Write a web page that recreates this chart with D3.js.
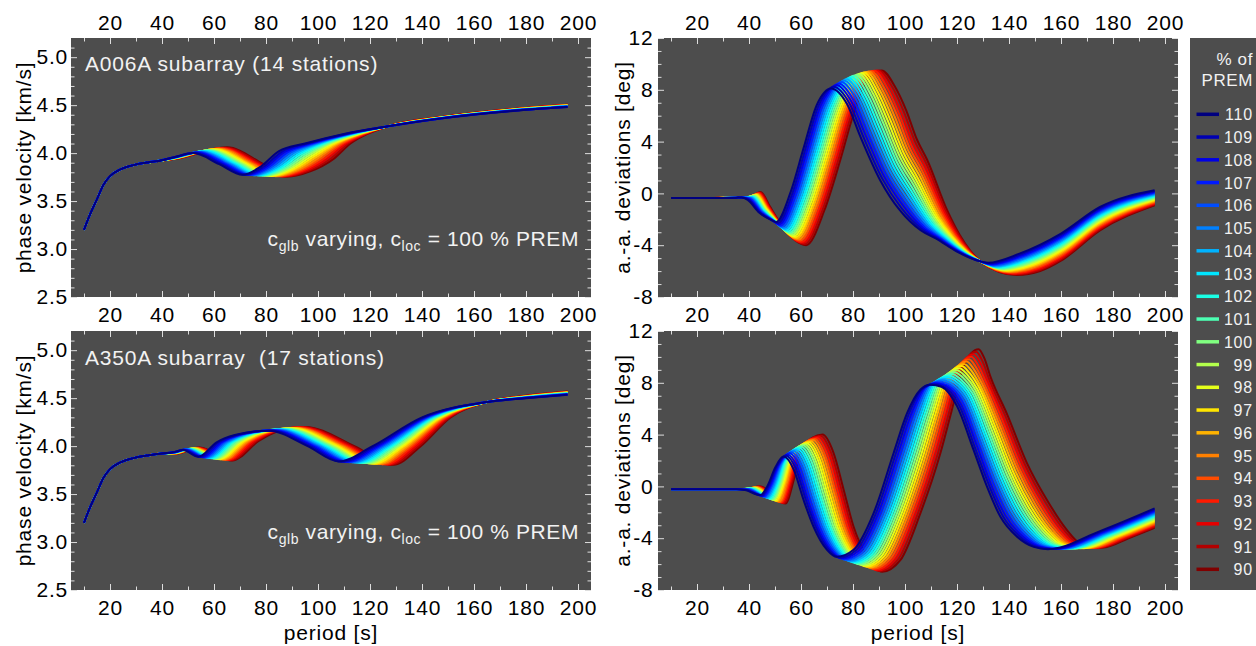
<!DOCTYPE html>
<html>
<head>
<meta charset="utf-8">
<script src="https://cdn.jsdelivr.net/npm/d3@7"></script>
<style>
  body { margin: 0; background: #fff; }
  svg { display: block; }
</style>
</head>
<body>
<svg id="chart" width="1256" height="646"></svg>
<script>
// c_glb in % of PREM, one curve each (legend order, top to bottom)
const levels = [110,109,108,107,106,105,104,103,102,101,100,99,98,97,96,95,94,93,92,91,90];

// tick values
const periodMajor = [20,40,60,80,100,120,140,160,180,200];
const periodMinor = [10,30,50,70,90,110,130,150,170,190];
const velMajor = [2.5,3.0,3.5,4.0,4.5,5.0];
const velMinor = [2.6,2.7,2.8,2.9,3.1,3.2,3.3,3.4,3.6,3.7,3.8,3.9,4.1,4.2,4.3,4.4,4.6,4.7,4.8,4.9,5.1];
const devMajor = [-8,-4,0,4,8,12];
const devMinor = [-7,-6,-5,-3,-2,-1,1,2,3,5,6,7,9,10,11];

// phase velocity [km/s]: part that all curves share (period, value, period, value ...)
const velStart = [10,3.20, 12,3.34, 15,3.52, 17.5,3.67, 20,3.76, 24,3.83, 29,3.875, 35,3.905, 39,3.92];

// A006A phase velocity, one row per level (period, value ...)
const velTop = [
  [45,3.960, 52,4.000, 62,3.885, 71,3.775, 78,3.860, 85,4.020, 95,4.10, 110,4.20, 127,4.28, 150,4.370, 175,4.440, 196,4.480],
  [45,3.959, 52.7,4.003, 62.9,3.885, 71.9,3.774, 79,3.858, 86.1,4.016, 95.9,4.10, 110.5,4.20, 127,4.28, 150,4.371, 175,4.441, 196,4.481],
  [45,3.958, 53.3,4.006, 63.7,3.885, 72.7,3.773, 79.9,3.855, 87.1,4.012, 96.8,4.10, 110.9,4.20, 127,4.28, 150,4.372, 175,4.442, 196,4.483],
  [45,3.957, 54,4.009, 64.6,3.885, 73.6,3.772, 80.9,3.853, 88.2,4.008, 97.6,4.10, 111.4,4.20, 127,4.28, 150,4.372, 175,4.443, 196,4.484],
  [45,3.956, 54.6,4.012, 65.4,3.885, 74.4,3.771, 81.8,3.850, 89.2,4.004, 98.5,4.10, 111.8,4.20, 127,4.28, 150,4.373, 175,4.444, 196,4.485],
  [45,3.955, 55.3,4.015, 66.3,3.885, 75.3,3.770, 82.8,3.848, 90.3,4.000, 99.4,4.10, 112.3,4.20, 127,4.28, 150,4.374, 175,4.445, 196,4.486],
  [45,3.954, 55.9,4.018, 67.1,3.885, 76.1,3.769, 83.7,3.845, 91.3,3.996, 100.3,4.10, 112.7,4.20, 127,4.28, 150,4.375, 175,4.446, 196,4.488],
  [45,3.953, 56.6,4.021, 68,3.885, 77,3.768, 84.7,3.843, 92.4,3.992, 101.1,4.10, 113.2,4.20, 127,4.28, 150,4.375, 175,4.447, 196,4.489],
  [45,3.952, 57.2,4.024, 68.8,3.885, 77.8,3.767, 85.6,3.840, 93.4,3.988, 102,4.10, 113.6,4.20, 127,4.28, 150,4.376, 175,4.448, 196,4.490],
  [45,3.951, 57.9,4.027, 69.7,3.885, 78.7,3.766, 86.6,3.838, 94.5,3.984, 102.9,4.10, 114.1,4.20, 127,4.28, 150,4.377, 175,4.449, 196,4.491],
  [45,3.950, 58.5,4.030, 70.5,3.885, 79.5,3.765, 87.5,3.835, 95.5,3.980, 103.8,4.10, 114.5,4.20, 127,4.28, 150,4.378, 175,4.450, 196,4.493],
  [45,3.949, 59.2,4.033, 71.4,3.885, 80.4,3.764, 88.5,3.833, 96.6,3.976, 104.6,4.10, 115,4.20, 127,4.28, 150,4.378, 175,4.451, 196,4.494],
  [45,3.948, 59.8,4.036, 72.2,3.885, 81.2,3.763, 89.4,3.830, 97.6,3.972, 105.5,4.10, 115.4,4.20, 127,4.28, 150,4.379, 175,4.452, 196,4.495],
  [45,3.947, 60.5,4.039, 73.1,3.885, 82.1,3.762, 90.4,3.828, 98.7,3.968, 106.4,4.10, 115.9,4.20, 127,4.28, 150,4.380, 175,4.453, 196,4.496],
  [45,3.946, 61.1,4.042, 73.9,3.885, 82.9,3.761, 91.3,3.825, 99.7,3.964, 107.3,4.10, 116.3,4.20, 127,4.28, 150,4.381, 175,4.454, 196,4.498],
  [45,3.945, 61.8,4.045, 74.8,3.885, 83.8,3.760, 92.3,3.823, 100.8,3.960, 108.1,4.10, 116.8,4.20, 127,4.28, 150,4.381, 175,4.455, 196,4.499],
  [45,3.944, 62.4,4.048, 75.6,3.885, 84.6,3.759, 93.2,3.820, 101.8,3.956, 109,4.10, 117.2,4.20, 127,4.28, 150,4.382, 175,4.456, 196,4.500],
  [45,3.943, 63.1,4.051, 76.5,3.885, 85.5,3.758, 94.2,3.818, 102.9,3.952, 109.9,4.10, 117.7,4.20, 127,4.28, 150,4.383, 175,4.457, 196,4.501],
  [45,3.942, 63.7,4.054, 77.3,3.885, 86.3,3.757, 95.1,3.815, 103.9,3.948, 110.8,4.10, 118.1,4.20, 127,4.28, 150,4.384, 175,4.458, 196,4.503],
  [45,3.941, 64.4,4.057, 78.2,3.885, 87.2,3.756, 96.1,3.813, 105,3.944, 111.6,4.10, 118.6,4.20, 127,4.28, 150,4.384, 175,4.459, 196,4.504],
  [45,3.940, 65,4.060, 79,3.885, 88,3.755, 97,3.810, 106,3.940, 112.5,4.10, 119,4.20, 127,4.28, 150,4.385, 175,4.460, 196,4.505]
];

// A350A phase velocity
const velBot = [
  [45,3.940, 48,3.960, 54,3.890, 61,4.040, 68,4.115, 81,4.160, 96,4.00, 108,3.840, 121,4.00, 140,4.30, 165,4.46, 180,4.500, 196,4.535],
  [45,3.939, 48.3,3.961, 54.7,3.888, 61.8,4.041, 68.8,4.117, 81.7,4.162, 96.9,4.00, 109.1,3.838, 121.9,4.00, 140.6,4.30, 165,4.46, 180,4.501, 196,4.537],
  [45,3.938, 48.7,3.963, 55.3,3.886, 62.7,4.042, 69.6,4.119, 82.4,4.164, 97.8,4.00, 110.1,3.837, 122.9,4.00, 141.1,4.30, 165,4.46, 180,4.503, 196,4.539],
  [45,3.937, 49,3.964, 56,3.884, 63.5,4.043, 70.4,4.120, 83.1,4.166, 98.7,4.00, 111.2,3.835, 123.8,4.00, 141.7,4.30, 165,4.46, 180,4.504, 196,4.540],
  [45,3.936, 49.3,3.965, 56.6,3.882, 64.3,4.044, 71.2,4.122, 83.8,4.168, 99.6,4.00, 112.2,3.833, 124.7,4.00, 142.2,4.30, 165,4.46, 180,4.505, 196,4.542],
  [45,3.935, 49.6,3.966, 57.3,3.880, 65.1,4.045, 72,4.124, 84.5,4.170, 100.5,4.00, 113.3,3.831, 125.6,4.00, 142.8,4.30, 165,4.46, 180,4.506, 196,4.544],
  [45,3.934, 50,3.968, 57.9,3.878, 66,4.046, 72.8,4.126, 85.2,4.172, 101.4,4.00, 114.3,3.830, 126.6,4.00, 143.3,4.30, 165,4.46, 180,4.508, 196,4.546],
  [45,3.933, 50.3,3.969, 58.6,3.876, 66.8,4.047, 73.6,4.127, 85.9,4.174, 102.3,4.00, 115.4,3.828, 127.5,4.00, 143.9,4.30, 165,4.46, 180,4.509, 196,4.547],
  [45,3.932, 50.6,3.970, 59.2,3.874, 67.6,4.048, 74.4,4.129, 86.6,4.176, 103.2,4.00, 116.4,3.826, 128.4,4.00, 144.4,4.30, 165,4.46, 180,4.510, 196,4.549],
  [45,3.931, 50.9,3.971, 59.9,3.872, 68.4,4.049, 75.2,4.131, 87.3,4.178, 104.1,4.00, 117.5,3.824, 129.3,4.00, 145,4.30, 165,4.46, 180,4.511, 196,4.551],
  [45,3.930, 51.3,3.973, 60.5,3.870, 69.3,4.050, 76,4.133, 88,4.180, 105,4.00, 118.5,3.823, 130.3,4.00, 145.5,4.30, 165,4.46, 180,4.513, 196,4.553],
  [45,3.929, 51.6,3.974, 61.2,3.868, 70.1,4.051, 76.8,4.134, 88.7,4.182, 105.9,4.00, 119.6,3.821, 131.2,4.00, 146.1,4.30, 165,4.46, 180,4.514, 196,4.554],
  [45,3.928, 51.9,3.975, 61.8,3.866, 70.9,4.052, 77.6,4.136, 89.4,4.184, 106.8,4.00, 120.6,3.819, 132.1,4.00, 146.6,4.30, 165,4.46, 180,4.515, 196,4.556],
  [45,3.927, 52.2,3.976, 62.5,3.864, 71.7,4.053, 78.4,4.138, 90.1,4.186, 107.7,4.00, 121.7,3.817, 133,4.00, 147.2,4.30, 165,4.46, 180,4.516, 196,4.558],
  [45,3.926, 52.6,3.978, 63.1,3.862, 72.6,4.054, 79.2,4.140, 90.8,4.188, 108.6,4.00, 122.7,3.816, 134,4.00, 147.7,4.30, 165,4.46, 180,4.518, 196,4.560],
  [45,3.925, 52.9,3.979, 63.8,3.860, 73.4,4.055, 80,4.141, 91.5,4.190, 109.5,4.00, 123.8,3.814, 134.9,4.00, 148.3,4.30, 165,4.46, 180,4.519, 196,4.561],
  [45,3.924, 53.2,3.980, 64.4,3.858, 74.2,4.056, 80.8,4.143, 92.2,4.192, 110.4,4.00, 124.8,3.812, 135.8,4.00, 148.8,4.30, 165,4.46, 180,4.520, 196,4.563],
  [45,3.923, 53.5,3.981, 65.1,3.856, 75,4.057, 81.6,4.145, 92.9,4.194, 111.3,4.00, 125.9,3.810, 136.7,4.00, 149.4,4.30, 165,4.46, 180,4.521, 196,4.565],
  [45,3.922, 53.9,3.983, 65.7,3.854, 75.9,4.058, 82.4,4.147, 93.6,4.196, 112.2,4.00, 126.9,3.809, 137.7,4.00, 149.9,4.30, 165,4.46, 180,4.523, 196,4.567],
  [45,3.921, 54.2,3.984, 66.4,3.852, 76.7,4.059, 83.2,4.148, 94.3,4.198, 113.1,4.00, 128,3.807, 138.6,4.00, 150.5,4.30, 165,4.46, 180,4.524, 196,4.568],
  [45,3.920, 54.5,3.985, 67,3.850, 77.5,4.060, 84,4.150, 95,4.200, 114,4.00, 129,3.805, 139.5,4.00, 151,4.30, 165,4.46, 180,4.525, 196,4.570]
];

// a.-a. deviations [deg], shared flat start
const devTopStart = [10,-0.35, 25,-0.35, 35,-0.33];
const devBotStart = [10,-0.22, 25,-0.22, 33,-0.22];

// A006A deviations
const devTop = [
  [37,-0.32, 39.5,-0.50, 44,-1.500, 48.5,-2.050, 50.5,-2.20, 56,0.10, 61,3.50, 66,6.80, 69,7.80, 71.5,8.10, 77.7,6.90, 82.8,4.4, 90.5,1.00, 98,-1.300, 106,-2.85, 112,-3.500, 120,-4.500, 129,-5.25, 132,-5.35, 144,-4.65, 160,-3.100, 175,-1.05, 196,0.240],
  [37.2,-0.32, 39.8,-0.47, 44.2,-1.475, 48.7,-2.055, 51.1,-2.29, 56.7,0.03, 61.7,3.45, 66.7,6.76, 69.8,7.84, 72.5,8.24, 78.6,6.97, 83.7,4.5, 91.2,1.16, 98.5,-1.105, 106.5,-2.77, 112.5,-3.485, 120.3,-4.495, 129,-5.25, 132.6,-5.40, 144.4,-4.72, 160,-3.205, 175,-1.14, 196,0.182],
  [37.3,-0.32, 40,-0.44, 44.4,-1.450, 48.8,-2.060, 51.7,-2.38, 57.3,-0.04, 62.4,3.40, 67.4,6.72, 70.6,7.88, 73.5,8.37, 79.5,7.04, 84.6,4.6, 91.9,1.32, 99.1,-0.910, 107,-2.70, 112.9,-3.470, 120.5,-4.490, 129,-5.25, 133.1,-5.45, 144.8,-4.79, 160,-3.310, 175,-1.23, 196,0.124],
  [37.5,-0.32, 40.3,-0.41, 44.6,-1.425, 49,-2.065, 52.2,-2.47, 58,-0.11, 63.1,3.35, 68.1,6.68, 71.4,7.92, 74.4,8.49, 80.4,7.11, 85.5,4.7, 92.6,1.48, 99.6,-0.715, 107.5,-2.62, 113.4,-3.455, 120.8,-4.485, 129,-5.25, 133.7,-5.49, 145.2,-4.85, 160,-3.415, 175,-1.32, 196,0.066],
  [37.6,-0.32, 40.5,-0.38, 44.8,-1.400, 49.1,-2.070, 52.8,-2.56, 58.6,-0.18, 63.8,3.30, 68.8,6.64, 72.2,7.96, 75.4,8.60, 81.4,7.18, 86.3,4.8, 93.3,1.64, 100.1,-0.520, 108,-2.54, 113.8,-3.440, 121,-4.480, 129,-5.25, 134.2,-5.54, 145.6,-4.92, 160,-3.520, 175,-1.41, 196,0.008],
  [37.8,-0.32, 40.8,-0.35, 45,-1.375, 49.3,-2.075, 53.4,-2.65, 59.3,-0.25, 64.5,3.25, 69.5,6.60, 73,8.00, 76.4,8.71, 82.3,7.25, 87.2,4.9, 94,1.80, 100.6,-0.325, 108.6,-2.46, 114.3,-3.425, 121.3,-4.475, 129,-5.25, 134.8,-5.59, 146,-4.99, 160,-3.625, 175,-1.50, 196,-0.050],
  [37.9,-0.32, 41,-0.32, 45.2,-1.350, 49.4,-2.080, 54,-2.74, 59.9,-0.32, 65.2,3.20, 70.2,6.56, 73.8,8.04, 77.4,8.81, 83.2,7.32, 88.1,5.0, 94.7,1.96, 101.2,-0.130, 109.1,-2.39, 114.7,-3.410, 121.5,-4.470, 129,-5.25, 135.3,-5.64, 146.4,-5.06, 160,-3.730, 175,-1.59, 196,-0.108],
  [38.1,-0.32, 41.3,-0.29, 45.4,-1.325, 49.6,-2.085, 54.5,-2.83, 60.6,-0.39, 65.9,3.15, 70.9,6.52, 74.6,8.08, 78.3,8.91, 84.1,7.39, 89,5.1, 95.4,2.12, 101.7,0.065, 109.6,-2.31, 115.2,-3.395, 121.8,-4.465, 129,-5.25, 135.9,-5.68, 146.8,-5.12, 160,-3.835, 175,-1.68, 196,-0.166],
  [38.2,-0.32, 41.5,-0.26, 45.6,-1.300, 49.7,-2.090, 55.1,-2.92, 61.2,-0.46, 66.6,3.10, 71.6,6.48, 75.4,8.12, 79.3,9.00, 85,7.46, 89.9,5.2, 96.1,2.28, 102.2,0.260, 110.1,-2.23, 115.6,-3.380, 122,-4.460, 129,-5.25, 136.4,-5.73, 147.2,-5.19, 160,-3.940, 175,-1.77, 196,-0.224],
  [38.4,-0.32, 41.8,-0.23, 45.8,-1.275, 49.9,-2.095, 55.7,-3.01, 61.9,-0.53, 67.3,3.05, 72.3,6.44, 76.2,8.16, 80.3,9.08, 85.9,7.53, 90.8,5.3, 96.8,2.44, 102.7,0.455, 110.6,-2.15, 116.1,-3.365, 122.3,-4.455, 129,-5.25, 137,-5.78, 147.6,-5.26, 160,-4.045, 175,-1.86, 196,-0.282],
  [38.5,-0.32, 42,-0.20, 46,-1.250, 50,-2.100, 56.3,-3.10, 62.5,-0.60, 68,3.00, 73,6.40, 77,8.20, 81.3,9.15, 86.9,7.60, 91.7,5.4, 97.5,2.60, 103.3,0.650, 111.1,-2.08, 116.5,-3.350, 122.5,-4.450, 129,-5.25, 137.5,-5.83, 148,-5.33, 160,-4.150, 175,-1.95, 196,-0.340],
  [38.7,-0.32, 42.3,-0.17, 46.2,-1.225, 50.2,-2.105, 56.8,-3.19, 63.2,-0.67, 68.7,2.95, 73.7,6.36, 77.8,8.24, 82.2,9.22, 87.8,7.67, 92.5,5.5, 98.2,2.76, 103.8,0.845, 111.6,-2.00, 117,-3.335, 122.8,-4.445, 129,-5.25, 138.1,-5.87, 148.4,-5.39, 160,-4.255, 175,-2.04, 196,-0.398],
  [38.8,-0.32, 42.5,-0.14, 46.4,-1.200, 50.3,-2.110, 57.4,-3.28, 63.8,-0.74, 69.4,2.90, 74.4,6.32, 78.6,8.28, 83.2,9.28, 88.7,7.74, 93.4,5.6, 98.9,2.92, 104.3,1.040, 112.1,-1.92, 117.4,-3.320, 123,-4.440, 129,-5.25, 138.6,-5.92, 148.8,-5.46, 160,-4.360, 175,-2.13, 196,-0.456],
  [39,-0.32, 42.8,-0.11, 46.6,-1.175, 50.5,-2.115, 58,-3.37, 64.5,-0.81, 70.1,2.85, 75.1,6.28, 79.4,8.32, 84.2,9.33, 89.6,7.81, 94.3,5.7, 99.6,3.08, 104.8,1.235, 112.6,-1.84, 117.9,-3.305, 123.3,-4.435, 129,-5.25, 139.2,-5.97, 149.2,-5.53, 160,-4.465, 175,-2.22, 196,-0.514],
  [39.1,-0.32, 43,-0.08, 46.8,-1.150, 50.6,-2.120, 58.6,-3.46, 65.1,-0.88, 70.8,2.80, 75.8,6.24, 80.2,8.36, 85.2,9.37, 90.5,7.88, 95.2,5.8, 100.3,3.24, 105.4,1.430, 113.1,-1.77, 118.3,-3.290, 123.5,-4.430, 129,-5.25, 139.7,-6.02, 149.6,-5.60, 160,-4.570, 175,-2.31, 196,-0.572],
  [39.3,-0.32, 43.3,-0.05, 47,-1.125, 50.8,-2.125, 59.1,-3.55, 65.8,-0.95, 71.5,2.75, 76.5,6.20, 81,8.40, 86.1,9.41, 91.4,7.95, 96.1,5.9, 101,3.40, 105.9,1.625, 113.7,-1.69, 118.8,-3.275, 123.8,-4.425, 129,-5.25, 140.3,-6.06, 150,-5.66, 160,-4.675, 175,-2.40, 196,-0.630],
  [39.4,-0.32, 43.5,-0.02, 47.2,-1.100, 50.9,-2.130, 59.7,-3.64, 66.4,-1.02, 72.2,2.70, 77.2,6.16, 81.8,8.44, 87.1,9.44, 92.3,8.02, 97,6.0, 101.7,3.56, 106.4,1.820, 114.2,-1.61, 119.2,-3.260, 124,-4.420, 129,-5.25, 140.8,-6.11, 150.4,-5.73, 160,-4.780, 175,-2.49, 196,-0.688],
  [39.6,-0.32, 43.8,0.01, 47.4,-1.075, 51.1,-2.135, 60.3,-3.73, 67.1,-1.09, 72.9,2.65, 77.9,6.12, 82.6,8.48, 88.1,9.47, 93.3,8.09, 97.8,6.1, 102.4,3.72, 106.9,2.015, 114.7,-1.53, 119.7,-3.245, 124.3,-4.415, 129,-5.25, 141.4,-6.16, 150.8,-5.80, 160,-4.885, 175,-2.58, 196,-0.746],
  [39.7,-0.32, 44,0.04, 47.6,-1.050, 51.2,-2.140, 60.9,-3.82, 67.7,-1.16, 73.6,2.60, 78.6,6.08, 83.4,8.52, 89.1,9.49, 94.2,8.16, 98.7,6.2, 103.1,3.88, 107.5,2.210, 115.2,-1.46, 120.1,-3.230, 124.5,-4.410, 129,-5.25, 141.9,-6.21, 151.2,-5.87, 160,-4.990, 175,-2.67, 196,-0.804],
  [39.9,-0.32, 44.3,0.07, 47.8,-1.025, 51.4,-2.145, 61.4,-3.91, 68.4,-1.23, 74.3,2.55, 79.3,6.04, 84.2,8.56, 90,9.50, 95.1,8.23, 99.6,6.3, 103.8,4.04, 108,2.405, 115.7,-1.38, 120.6,-3.215, 124.8,-4.405, 129,-5.25, 142.5,-6.25, 151.6,-5.93, 160,-5.095, 175,-2.76, 196,-0.862],
  [40,-0.32, 44.5,0.10, 48,-1.000, 51.5,-2.150, 62,-4.00, 69,-1.30, 75,2.50, 80,6.00, 85,8.60, 91,9.50, 96,8.30, 100.5,6.4, 104.5,4.20, 108.5,2.600, 116.2,-1.30, 121,-3.200, 125,-4.400, 129,-5.25, 143,-6.30, 152,-6.00, 160,-5.200, 175,-2.85, 196,-0.920]
];

// A350A deviations
const devBot = [
  [35,-0.22, 38.5,-0.280, 44.3,-0.670, 47,0.000, 50.2,1.50, 53.3,2.300, 57.2,1.300, 61,-1.05, 64.8,-3.1, 70,-4.900, 73.8,-5.440, 80.2,-4.90, 87.9,-2.08, 95.6,2.56, 100.8,5.65, 105.9,7.46, 109.7,7.85, 114,7.70, 120,6.20, 126.4,2.80, 131.5,0.00, 136.7,-2.350, 143.1,-3.890, 149.5,-4.670, 155,-4.85, 175,-3.450, 196,-1.700],
  [35.2,-0.22, 38.8,-0.266, 44.8,-0.703, 47.5,0.025, 50.7,1.57, 54.1,2.385, 58,1.365, 61.8,-1.01, 65.6,-3.1, 70.8,-4.927, 74.7,-5.498, 81.1,-4.94, 88.8,-2.08, 96.5,2.56, 101.6,5.65, 106.7,7.55, 110.6,7.88, 114.8,7.70, 120.7,6.31, 127,2.94, 132.3,0.09, 137.6,-2.285, 144.1,-3.864, 150.4,-4.657, 156.1,-4.84, 175.6,-3.478, 196,-1.775],
  [35.4,-0.22, 39.1,-0.252, 45.3,-0.736, 48,0.050, 51.2,1.64, 54.8,2.470, 58.7,1.430, 62.5,-0.97, 66.3,-3.1, 71.5,-4.954, 75.5,-5.556, 82,-4.98, 89.7,-2.08, 97.4,2.56, 102.5,5.65, 107.6,7.64, 111.6,7.94, 115.7,7.74, 121.3,6.42, 127.7,3.08, 133,0.18, 138.5,-2.220, 145,-3.838, 151.3,-4.643, 157.1,-4.84, 176.1,-3.505, 196,-1.850],
  [35.6,-0.22, 39.4,-0.238, 45.8,-0.769, 48.5,0.075, 51.7,1.71, 55.6,2.555, 59.5,1.495, 63.3,-0.93, 67.1,-3.1, 72.3,-4.981, 76.4,-5.614, 82.9,-5.02, 90.6,-2.08, 98.3,2.56, 103.3,5.65, 108.4,7.73, 112.5,8.01, 116.5,7.78, 122,6.53, 128.3,3.22, 133.8,0.27, 139.4,-2.155, 146,-3.812, 152.2,-4.630, 158.2,-4.83, 176.7,-3.533, 196,-1.925],
  [35.8,-0.22, 39.7,-0.224, 46.2,-0.802, 49,0.100, 52.2,1.78, 56.3,2.640, 60.3,1.560, 64.1,-0.89, 67.9,-3.1, 73.1,-5.008, 77.3,-5.672, 83.8,-5.06, 91.5,-2.08, 99.2,2.56, 104.2,5.65, 109.2,7.82, 113.4,8.10, 117.3,7.84, 122.6,6.64, 129,3.36, 134.6,0.36, 140.3,-2.090, 146.9,-3.786, 153.1,-4.616, 159.2,-4.82, 177.2,-3.560, 196,-2.000],
  [36,-0.22, 40,-0.210, 46.7,-0.835, 49.6,0.125, 52.7,1.85, 57.1,2.725, 61,1.625, 64.9,-0.85, 68.7,-3.1, 73.9,-5.035, 78.2,-5.730, 84.7,-5.10, 92.4,-2.08, 100.1,2.56, 105,5.65, 110.1,7.91, 114.4,8.19, 118.1,7.90, 123.3,6.75, 129.6,3.50, 135.4,0.45, 141.2,-2.025, 147.9,-3.760, 154,-4.603, 160.3,-4.82, 177.8,-3.588, 196,-2.075],
  [36.2,-0.22, 40.2,-0.196, 47.2,-0.868, 50.1,0.150, 53.1,1.92, 57.8,2.810, 61.8,1.690, 65.6,-0.81, 69.4,-3.1, 74.6,-5.062, 79,-5.788, 85.6,-5.14, 93.3,-2.08, 101,2.56, 105.9,5.65, 110.9,8.00, 115.3,8.30, 119,7.99, 123.9,6.86, 130.2,3.64, 136.1,0.54, 142.1,-1.960, 148.9,-3.734, 154.9,-4.589, 161.3,-4.81, 178.3,-3.615, 196,-2.150],
  [36.4,-0.22, 40.5,-0.182, 47.7,-0.901, 50.6,0.175, 53.6,1.99, 58.6,2.895, 62.6,1.755, 66.4,-0.77, 70.2,-3.1, 75.4,-5.089, 79.9,-5.846, 86.5,-5.18, 94.2,-2.08, 101.9,2.56, 106.7,5.65, 111.7,8.09, 116.2,8.42, 119.8,8.08, 124.6,6.97, 130.9,3.78, 136.9,0.63, 143,-1.895, 149.8,-3.708, 155.8,-4.576, 162.4,-4.80, 178.9,-3.643, 196,-2.225],
  [36.6,-0.22, 40.8,-0.168, 48.2,-0.934, 51.1,0.200, 54.1,2.06, 59.3,2.980, 63.3,1.820, 67.2,-0.73, 71,-3.1, 76.2,-5.116, 80.8,-5.904, 87.4,-5.22, 95.1,-2.08, 102.8,2.56, 107.6,5.65, 112.5,8.18, 117.1,8.55, 120.6,8.18, 125.2,7.08, 131.5,3.92, 137.7,0.72, 143.9,-1.830, 150.8,-3.682, 156.7,-4.562, 163.4,-4.80, 179.4,-3.670, 196,-2.300],
  [36.8,-0.22, 41.1,-0.154, 48.7,-0.967, 51.6,0.225, 54.6,2.13, 60.1,3.065, 64.1,1.885, 67.9,-0.69, 71.7,-3.1, 76.9,-5.143, 81.6,-5.962, 88.3,-5.26, 96,-2.08, 103.7,2.56, 108.4,5.65, 113.4,8.27, 118.1,8.68, 121.4,8.28, 125.9,7.19, 132.2,4.06, 138.4,0.81, 144.8,-1.765, 151.7,-3.656, 157.6,-4.549, 164.5,-4.79, 180,-3.698, 196,-2.375],
  [37,-0.22, 41.4,-0.140, 49.2,-1.000, 52.1,0.250, 55.1,2.20, 60.8,3.150, 64.9,1.950, 68.7,-0.65, 72.5,-3.1, 77.7,-5.170, 82.5,-6.020, 89.2,-5.30, 96.9,-2.08, 104.6,2.56, 109.3,5.65, 114.2,8.36, 119,8.82, 122.3,8.40, 126.5,7.30, 132.8,4.20, 139.2,0.90, 145.7,-1.700, 152.7,-3.630, 158.5,-4.535, 165.5,-4.79, 180.5,-3.725, 196,-2.450],
  [37.2,-0.22, 41.7,-0.126, 49.6,-1.033, 52.6,0.275, 55.6,2.27, 61.6,3.235, 65.6,2.015, 69.5,-0.61, 73.3,-3.1, 78.5,-5.197, 83.4,-6.078, 90.1,-5.34, 97.8,-2.08, 105.5,2.56, 110.1,5.65, 115,8.45, 119.9,8.97, 123.1,8.52, 127.2,7.41, 133.4,4.34, 140,0.99, 146.5,-1.635, 153.7,-3.604, 159.3,-4.522, 166.6,-4.78, 181.1,-3.753, 196,-2.525],
  [37.4,-0.22, 42,-0.112, 50.1,-1.066, 53.1,0.300, 56.1,2.34, 62.3,3.320, 66.4,2.080, 70.2,-0.57, 74,-3.1, 79.2,-5.224, 84.2,-6.136, 91,-5.38, 98.7,-2.08, 106.4,2.56, 110.9,5.65, 115.9,8.54, 120.9,9.13, 123.9,8.65, 127.8,7.52, 134.1,4.48, 140.7,1.08, 147.4,-1.570, 154.6,-3.578, 160.2,-4.508, 167.6,-4.77, 181.6,-3.780, 196,-2.600],
  [37.6,-0.22, 42.3,-0.098, 50.6,-1.099, 53.6,0.325, 56.6,2.41, 63.1,3.405, 67.1,2.145, 71,-0.53, 74.8,-3.1, 80,-5.251, 85.1,-6.194, 91.9,-5.42, 99.6,-2.08, 107.3,2.56, 111.8,5.65, 116.7,8.63, 121.8,9.29, 124.7,8.78, 128.5,7.63, 134.7,4.62, 141.5,1.17, 148.3,-1.505, 155.6,-3.552, 161.1,-4.495, 168.7,-4.77, 182.2,-3.808, 196,-2.675],
  [37.8,-0.22, 42.6,-0.084, 51.1,-1.132, 54.1,0.350, 57.1,2.48, 63.8,3.490, 67.9,2.210, 71.8,-0.49, 75.6,-3.1, 80.8,-5.278, 86,-6.252, 92.8,-5.46, 100.5,-2.08, 108.2,2.56, 112.6,5.65, 117.5,8.72, 122.7,9.46, 125.6,8.93, 129.1,7.74, 135.4,4.76, 142.3,1.26, 149.2,-1.440, 156.5,-3.526, 162,-4.481, 169.7,-4.76, 182.7,-3.835, 196,-2.750],
  [38,-0.22, 42.9,-0.070, 51.6,-1.165, 54.7,0.375, 57.6,2.55, 64.6,3.575, 68.7,2.275, 72.6,-0.45, 76.4,-3.1, 81.6,-5.305, 86.9,-6.310, 93.7,-5.50, 101.4,-2.08, 109.1,2.56, 113.5,5.65, 118.4,8.81, 123.7,9.64, 126.4,9.08, 129.8,7.85, 136,4.90, 143.1,1.35, 150.1,-1.375, 157.5,-3.500, 162.9,-4.468, 170.8,-4.75, 183.3,-3.863, 196,-2.825],
  [38.2,-0.22, 43.1,-0.056, 52.1,-1.198, 55.2,0.400, 58,2.62, 65.3,3.660, 69.4,2.340, 73.3,-0.41, 77.1,-3.1, 82.3,-5.332, 87.7,-6.368, 94.6,-5.54, 102.3,-2.08, 110,2.56, 114.3,5.65, 119.2,8.90, 124.6,9.82, 127.2,9.23, 130.4,7.96, 136.6,5.04, 143.8,1.44, 151,-1.310, 158.5,-3.474, 163.8,-4.454, 171.8,-4.75, 183.8,-3.890, 196,-2.900],
  [38.4,-0.22, 43.4,-0.042, 52.5,-1.231, 55.7,0.425, 58.5,2.69, 66.1,3.745, 70.2,2.405, 74.1,-0.37, 77.9,-3.1, 83.1,-5.359, 88.6,-6.426, 95.5,-5.58, 103.2,-2.08, 110.9,2.56, 115.2,5.65, 120,8.99, 125.5,10.01, 128,9.39, 131.1,8.07, 137.3,5.18, 144.6,1.53, 151.9,-1.245, 159.4,-3.448, 164.7,-4.441, 172.9,-4.74, 184.4,-3.918, 196,-2.975],
  [38.6,-0.22, 43.7,-0.028, 53,-1.264, 56.2,0.450, 59,2.76, 66.8,3.830, 71,2.470, 74.9,-0.33, 78.7,-3.1, 83.9,-5.386, 89.5,-6.484, 96.4,-5.62, 104.1,-2.08, 111.8,2.56, 116,5.65, 120.8,9.08, 126.4,10.20, 128.9,9.56, 131.7,8.18, 137.9,5.32, 145.4,1.62, 152.8,-1.180, 160.4,-3.422, 165.6,-4.427, 173.9,-4.73, 184.9,-3.945, 196,-3.050],
  [38.8,-0.22, 44,-0.014, 53.5,-1.297, 56.7,0.475, 59.5,2.83, 67.6,3.915, 71.7,2.535, 75.6,-0.29, 79.4,-3.1, 84.6,-5.413, 90.3,-6.542, 97.3,-5.66, 105,-2.08, 112.7,2.56, 116.9,5.65, 121.7,9.17, 127.4,10.40, 129.7,9.73, 132.4,8.29, 138.6,5.46, 146.1,1.71, 153.7,-1.115, 161.3,-3.396, 166.5,-4.414, 175,-4.73, 185.5,-3.973, 196,-3.125],
  [39,-0.22, 44.3,0.000, 54,-1.330, 57.2,0.500, 60,2.90, 68.3,4.000, 72.5,2.600, 76.4,-0.25, 80.2,-3.1, 85.4,-5.440, 91.2,-6.600, 98.2,-5.70, 105.9,-2.08, 113.6,2.56, 117.7,5.65, 122.5,9.26, 128.3,10.60, 130.5,9.90, 133,8.40, 139.2,5.60, 146.9,1.80, 154.6,-1.050, 162.3,-3.370, 167.4,-4.400, 176,-4.72, 186,-4.000, 196,-3.200]
];

const svg = d3.select("#chart");
const font = "'Liberation Sans', Arial, sans-serif";
const bg = "#4d4d4d", ink = "#f2f2f2", tickInk = "#dedede";
const PW = 520, PH = 259;

// IDL/matlab style jet colour table: 110 % = dark blue ... 90 % = dark red
const jet = t => {
  const ch = o => Math.round(255 * Math.max(0, Math.min(1, 1.5 - Math.abs(4 * t - o))));
  return `rgb(${ch(3)},${ch(2)},${ch(1)})`;
};
const colorOf = i => jet(i / (levels.length - 1));
const pairs = a => d3.range(0, a.length, 2).map(k => [a[k], a[k + 1]]);

const panels = [
  {left: 71, top: 38, yDomain: [2.5, 5.2], start: velStart, rows: velTop, kind: "vel", topLabels: true},
  {left: 71, top: 331, yDomain: [2.5, 5.2], start: velStart, rows: velBot, kind: "vel", topLabels: false},
  {left: 658, top: 38, yDomain: [-8, 12], start: devTopStart, rows: devTop, kind: "dev", topLabels: true},
  {left: 658, top: 331, yDomain: [-8, 12], start: devBotStart, rows: devBot, kind: "dev", topLabels: false}
];

function styleAxis(a) {
  a.select(".domain").remove();
  a.selectAll("line").attr("stroke", tickInk);
  a.selectAll("text")
    .attr("fill", "#000")
    .style("font-size", "21px")
    .style("letter-spacing", "0.8px")
    .style("font-family", font);
  return a;
}

function addAxis(g, gen, tx, ty) {
  return styleAxis(g.append("g").attr("transform", `translate(${tx},${ty})`).call(gen));
}

const noLabel = () => "";

panels.forEach(p => {
  const x = d3.scaleLinear().domain([5, 205]).range([p.left, p.left + PW]);
  const y = d3.scaleLinear().domain(p.yDomain).range([p.top + PH, p.top]);
  const g = svg.append("g");

  g.append("rect")
    .attr("x", p.left).attr("y", p.top)
    .attr("width", PW).attr("height", PH)
    .attr("fill", bg);

  const line = d3.line().x(d => x(d[0])).y(d => y(d[1])).curve(d3.curveMonotoneX);
  const series = p.rows.map((r, i) => ({i, pts: pairs(p.start).concat(pairs(r))}));

  // red drawn first, blue ends up on top
  g.append("g").selectAll("path")
    .data(series.slice().reverse())
    .join("path")
    .attr("d", d => line(d.pts))
    .attr("fill", "none")
    .attr("stroke", d => colorOf(d.i))
    .attr("stroke-width", 2)
    .attr("stroke-linejoin", "round");

  const yMajor = p.kind === "vel" ? velMajor : devMajor;
  const yMinor = p.kind === "vel" ? velMinor : devMinor;
  const yFmt = p.kind === "vel" ? d3.format(".1f") : d => String(d);

  // x axes, ticks pointing inward
  addAxis(g, d3.axisBottom(x).tickValues(periodMajor).tickSizeInner(-6).tickSizeOuter(0).tickPadding(10).tickFormat(d3.format("d")), 0, p.top + PH);
  addAxis(g, d3.axisBottom(x).tickValues(periodMinor).tickSizeInner(-3.5).tickSizeOuter(0).tickFormat(noLabel), 0, p.top + PH);
  addAxis(g, d3.axisTop(x).tickValues(periodMajor).tickSizeInner(-6).tickSizeOuter(0).tickPadding(8).tickFormat(p.topLabels ? d3.format("d") : noLabel), 0, p.top);
  addAxis(g, d3.axisTop(x).tickValues(periodMinor).tickSizeInner(-3.5).tickSizeOuter(0).tickFormat(noLabel), 0, p.top);

  // y axes
  addAxis(g, d3.axisLeft(y).tickValues(yMajor).tickSizeInner(-6).tickSizeOuter(0).tickPadding(p.kind === "vel" ? 3 : 4.5).tickFormat(yFmt), p.left, 0);
  addAxis(g, d3.axisLeft(y).tickValues(yMinor).tickSizeInner(-3.5).tickSizeOuter(0).tickFormat(noLabel), p.left, 0);
  addAxis(g, d3.axisRight(y).tickValues(yMajor).tickSizeInner(-6).tickSizeOuter(0).tickFormat(noLabel), p.left + PW, 0);
  addAxis(g, d3.axisRight(y).tickValues(yMinor).tickSizeInner(-3.5).tickSizeOuter(0).tickFormat(noLabel), p.left + PW, 0);

  // axis titles
  const cx = p.kind === "vel" ? 31 : 630;
  svg.append("text")
    .attr("transform", `translate(${cx},${p.top + PH / 2}) rotate(-90)`)
    .attr("text-anchor", "middle")
    .style("font-family", font).style("font-size", "21px").style("letter-spacing", "0.8px")
    .text(p.kind === "vel" ? "phase velocity [km/s]" : "a.-a. deviations [deg]");

  if (!p.topLabels) {
    svg.append("text")
      .attr("x", p.left + PW / 2).attr("y", 640)
      .attr("text-anchor", "middle")
      .style("font-family", font).style("font-size", "21px").style("letter-spacing", "0.8px")
      .text("period [s]");
  }

  // annotations inside the velocity panels
  if (p.kind === "vel") {
    g.append("text")
      .attr("x", p.left + 14).attr("y", p.top + (p.topLabels ? 33 : 34))
      .attr("fill", ink)
      .style("white-space", "pre")
      .style("font-family", font).style("font-size", "21px").style("letter-spacing", "0.8px")
      .text(p.topLabels ? "A006A subarray (14 stations)" : "A350A subarray  (17 stations)");

    const t = g.append("text")
      .attr("x", p.left + 508).attr("y", p.top + 208)
      .attr("text-anchor", "end")
      .attr("fill", ink)
      .style("font-family", font).style("font-size", "21px").style("letter-spacing", "0.6px");
    t.append("tspan").text("c");
    t.append("tspan").attr("dy", 5).style("font-size", "14px").text("glb");
    t.append("tspan").attr("dy", -5).text(" varying, c");
    t.append("tspan").attr("dy", 5).style("font-size", "14px").text("loc");
    t.append("tspan").attr("dy", -5).text(" = 100 % PREM");
  }
});

// legend
const lg = svg.append("g");
lg.append("rect").attr("x", 1190).attr("y", 38).attr("width", 66).attr("height", 552).attr("fill", bg);
lg.selectAll("text.head")
  .data(["% of", "PREM"])
  .join("text")
  .attr("class", "head")
  .attr("x", 1253).attr("y", (d, i) => 65 + i * 21)
  .attr("text-anchor", "end")
  .attr("fill", ink)
  .style("font-family", font).style("font-size", "17px").style("letter-spacing", "0.6px")
  .text(d => d);

const ly = d3.scalePoint().domain(levels).range([114.3, 569.3]);
const item = lg.selectAll("g.item").data(levels).join("g").attr("class", "item");
item.append("line")
  .attr("x1", 1196.5).attr("x2", 1219)
  .attr("y1", d => ly(d)).attr("y2", d => ly(d))
  .attr("stroke", (d, i) => colorOf(i))
  .attr("stroke-width", 3.5);
item.append("text")
  .attr("x", 1253).attr("y", d => ly(d) + 6)
  .attr("text-anchor", "end")
  .attr("fill", ink)
  .style("font-family", font).style("font-size", "16px").style("letter-spacing", "0.8px")
  .text(d => d);
</script>
</body>
</html>
